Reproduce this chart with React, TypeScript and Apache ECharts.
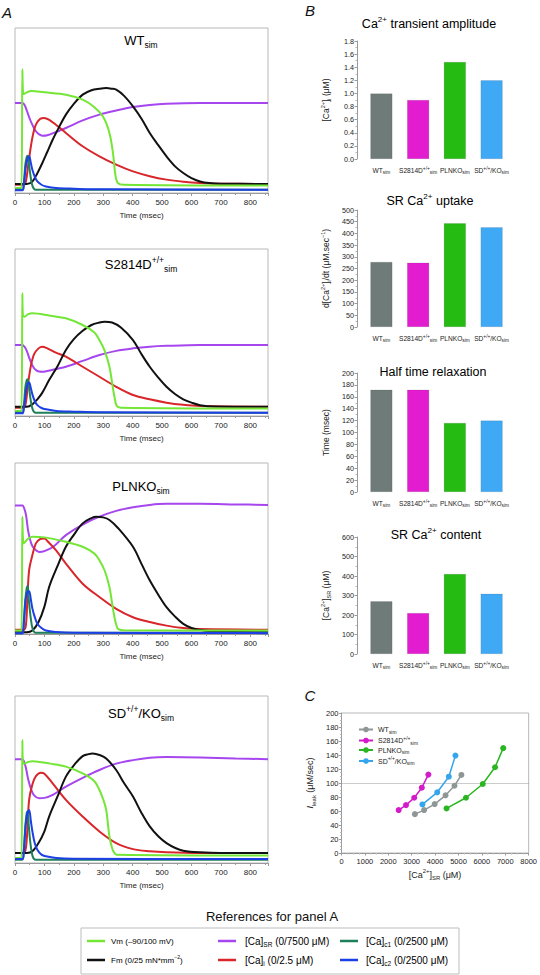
import React, { useEffect, useRef } from 'react';
import * as echarts from 'echarts';

const FONT = '"Liberation Sans", Arial, Helvetica, sans-serif';

// ---------- Panel A: traces, time (msec) vs normalised level (0 = frame bottom, 1 = frame top)
const traceTimeMax = 860;
const traceTimeTicks = 100;

const wtVm = [[0,0.03],[22,0.03],[25,0.75],[27,0.62],[30,0.6],[40,0.61],[55,0.618],[100,0.61],[173,0.596],[230,0.566],[270,0.52],[300,0.46],[321,0.364],[333,0.242],[342,0.1],[350,0.06],[370,0.05],[860,0.045]];
const wtSR = [[0,0.545],[25,0.545],[32,0.535],[40,0.5],[50,0.45],[60,0.41],[71,0.374],[82,0.355],[93,0.347],[110,0.35],[140,0.37],[173,0.394],[230,0.44],[287,0.475],[344,0.5],[401,0.521],[458,0.534],[515,0.541],[629,0.545],[860,0.545]];
const wtCai = [[0,0.05],[30,0.05],[37,0.07],[45,0.17],[54,0.283],[62,0.36],[71,0.414],[85,0.448],[99,0.455],[115,0.445],[139,0.414],[173,0.364],[230,0.283],[287,0.222],[344,0.172],[401,0.131],[458,0.102],[515,0.081],[572,0.068],[629,0.06],[700,0.056],[860,0.055]];
const wtFm = [[0,0.055],[40,0.055],[59,0.07],[76,0.12],[93,0.182],[110,0.25],[128,0.323],[150,0.4],[173,0.475],[200,0.54],[230,0.596],[260,0.623],[287,0.632],[310,0.636],[330,0.632],[344,0.626],[370,0.59],[401,0.525],[430,0.45],[458,0.364],[487,0.29],[515,0.222],[545,0.16],[572,0.121],[600,0.09],[629,0.07],[660,0.06],[700,0.056],[860,0.055]];
const wtC1 = [[0,0.02],[25,0.02],[30,0.06],[35,0.17],[40,0.22],[43,0.226],[47,0.18],[53,0.1],[60,0.04],[70,0.02],[860,0.02]];
const wtC2 = [[0,0.016],[25,0.016],[30,0.05],[36,0.15],[42,0.205],[48,0.222],[54,0.18],[59,0.141],[67,0.1],[76,0.07],[90,0.05],[105,0.04],[140,0.03],[200,0.026],[300,0.022],[860,0.02]];

const sdVm = [[0,0.03],[22,0.03],[25,0.735],[27,0.6],[32,0.595],[45,0.61],[59,0.615],[120,0.6],[173,0.585],[230,0.545],[270,0.5],[287,0.455],[305,0.39],[321,0.295],[330,0.2],[338,0.115],[346,0.06],[360,0.05],[860,0.045]];
const sdSR = [[0,0.425],[25,0.425],[32,0.415],[40,0.39],[50,0.34],[60,0.3],[71,0.275],[82,0.266],[93,0.265],[110,0.27],[140,0.282],[173,0.295],[230,0.33],[287,0.365],[344,0.39],[401,0.405],[458,0.415],[515,0.42],[629,0.425],[860,0.425]];
const sdCai = [[0,0.05],[30,0.05],[37,0.08],[45,0.2],[54,0.3],[65,0.37],[80,0.405],[93,0.415],[110,0.405],[139,0.38],[173,0.355],[230,0.295],[287,0.235],[344,0.175],[401,0.126],[458,0.1],[515,0.08],[572,0.067],[629,0.06],[860,0.055]];
const sdFm = [[0,0.055],[40,0.055],[59,0.07],[76,0.1],[93,0.14],[116,0.215],[145,0.3],[173,0.395],[200,0.46],[230,0.51],[260,0.545],[287,0.56],[304,0.565],[330,0.56],[360,0.53],[401,0.455],[430,0.37],[458,0.295],[487,0.23],[515,0.175],[545,0.13],[572,0.1],[600,0.08],[629,0.065],[680,0.057],[860,0.055]];
const sdC1 = [[0,0.02],[25,0.02],[30,0.06],[35,0.17],[40,0.215],[43,0.22],[47,0.18],[53,0.1],[60,0.04],[70,0.02],[860,0.02]];
const sdC2 = [[0,0.016],[25,0.016],[30,0.05],[36,0.13],[42,0.19],[48,0.2],[54,0.165],[59,0.13],[67,0.09],[76,0.065],[90,0.048],[105,0.04],[140,0.03],[200,0.026],[300,0.022],[860,0.02]];

const plVm = [[0,0.02],[22,0.02],[25,0.686],[27,0.56],[30,0.53],[40,0.55],[59,0.569],[100,0.565],[173,0.539],[230,0.51],[270,0.47],[287,0.431],[305,0.37],[321,0.275],[330,0.18],[338,0.098],[345,0.05],[350,0.03],[370,0.022],[860,0.02]];
const plSR = [[0,0.751],[25,0.751],[30,0.74],[37,0.7],[45,0.6],[55,0.53],[65,0.5],[82,0.48],[100,0.485],[130,0.51],[173,0.578],[230,0.64],[287,0.686],[344,0.72],[401,0.741],[458,0.755],[515,0.761],[629,0.761],[750,0.758],[860,0.755]];
const plCai = [[0,0.025],[30,0.025],[37,0.05],[42,0.2],[48,0.373],[59,0.46],[71,0.53],[85,0.555],[99,0.559],[115,0.535],[139,0.49],[173,0.412],[230,0.294],[287,0.216],[344,0.147],[401,0.098],[458,0.07],[515,0.049],[572,0.035],[629,0.029],[860,0.025]];
const plFm = [[0,0.01],[40,0.01],[59,0.02],[80,0.07],[100,0.16],[116,0.275],[145,0.4],[173,0.51],[200,0.58],[230,0.647],[260,0.678],[276,0.686],[300,0.682],[321,0.667],[350,0.62],[401,0.51],[430,0.41],[458,0.314],[487,0.23],[515,0.157],[545,0.1],[572,0.059],[600,0.035],[629,0.024],[680,0.014],[860,0.01]];
const plC1 = [[0,0.005],[25,0.005],[30,0.08],[35,0.2],[40,0.27],[43,0.28],[47,0.2],[53,0.1],[60,0.03],[70,0.008],[860,0.008]];
const plC2 = [[0,0.004],[25,0.004],[30,0.06],[36,0.2],[42,0.245],[48,0.25],[54,0.2],[59,0.15],[67,0.1],[76,0.06],[90,0.035],[105,0.02],[140,0.012],[200,0.008],[860,0.005]];

const skVm = [[0,0.03],[22,0.03],[25,0.736],[27,0.6],[32,0.596],[45,0.605],[59,0.61],[120,0.595],[173,0.577],[230,0.537],[270,0.49],[287,0.437],[300,0.38],[310,0.318],[321,0.159],[330,0.09],[336,0.065],[345,0.05],[860,0.045]];
const skSR = [[0,0.622],[25,0.622],[30,0.61],[37,0.57],[45,0.5],[55,0.44],[65,0.405],[82,0.388],[100,0.39],[130,0.41],[173,0.457],[230,0.51],[287,0.557],[344,0.595],[401,0.616],[458,0.63],[515,0.634],[629,0.632],[750,0.626],[860,0.622]];
const skCai = [[0,0.06],[30,0.06],[37,0.09],[42,0.2],[48,0.378],[59,0.47],[71,0.52],[88,0.541],[100,0.535],[128,0.477],[173,0.378],[230,0.278],[287,0.189],[344,0.119],[401,0.083],[458,0.07],[515,0.064],[629,0.06],[860,0.06]];
const skFm = [[0,0.06],[40,0.06],[59,0.07],[80,0.12],[100,0.19],[116,0.278],[145,0.4],[173,0.517],[200,0.585],[230,0.64],[250,0.652],[264,0.656],[290,0.645],[310,0.626],[344,0.557],[370,0.48],[401,0.398],[430,0.3],[458,0.219],[487,0.16],[515,0.119],[545,0.09],[572,0.074],[629,0.064],[700,0.06],[860,0.06]];
const skC1 = [[0,0.02],[25,0.02],[30,0.08],[35,0.22],[40,0.3],[43,0.31],[47,0.22],[53,0.11],[60,0.04],[70,0.02],[860,0.02]];
const skC2 = [[0,0.024],[25,0.024],[30,0.07],[36,0.22],[42,0.3],[48,0.318],[54,0.25],[59,0.19],[67,0.12],[76,0.08],[90,0.05],[105,0.04],[140,0.03],[200,0.026],[860,0.024]];

const panelATitles = ['{n|WT}{s|sim}', '{n|S2814D}{p|+/+}{s|sim}', '{n|PLNKO}{s|sim}', '{n|SD}{p|+/+}{n|/KO}{s|sim}'];
const traceNames = ['[Ca]SR', '[Ca]i', 'Fm', 'Vm', '[Ca]c1', '[Ca]c2'];
const traceColors = ['#a646ee', '#d8262b', '#111111', '#74e636', '#1f7f5a', '#1d3fe6'];
const panelAData = [
  [wtSR, wtCai, wtFm, wtVm, wtC1, wtC2],
  [sdSR, sdCai, sdFm, sdVm, sdC1, sdC2],
  [plSR, plCai, plFm, plVm, plC1, plC2],
  [skSR, skCai, skFm, skVm, skC1, skC2],
];

// ---------- Panel B: bar charts
const barCategories = ['WT', 'S2814D', 'PLNKO', 'SD/KO'];
const barCategoryLabels = ['{n|WT}{s|sim}', '{n|S2814D}{p|+/+}{s|sim}', '{n|PLNKO}{s|sim}', '{n|SD}{p|+/+}{n|/KO}{s|sim}'];
const barColors = ['#6f7b78', '#e21dcf', '#25bb12', '#40a9f5'];
const caAmplitude = [1.0, 0.9, 1.48, 1.2];
const srUptake = [278, 275, 443, 426];
const halfRelaxation = [172, 172, 116, 120];
const srContent = [270, 210, 410, 309];

// ---------- Panel C: leak vs SR load
const leakWT = [[3137,55.5],[3531,61.3],[3983,69.9],[4448,82.4],[4829,96.1],[5125,111.5]];
const leakS2814D = [[2444,61.3],[2757,68.4],[3108,78.9],[3434,93.3],[3713,112]];
const leakPLNKO = [[4490,63.7],[5320,78.9],[6038,98.6],[6563,122.5],[6913,149.8]];
const leakSDKO = [[3459,69.4],[4093,86.7],[4588,109],[4871,139.2]];
const leakThreshold = 100;
const leakNames = ['WT', 'S2814D', 'PLNKO', 'SD/KO'];
const leakColors = ['#8f9796', '#d41bc9', '#29b620', '#35a5ec'];

function rich(size: number, color = '#111', subRatio = 0.65) {
  const small = Math.round(size * subRatio * 10) / 10;
  const base = { fontFamily: FONT, color };
  return {
    n: { ...base, fontSize: size, lineHeight: Math.round(size * 1.4) },
    i: { ...base, fontSize: size, lineHeight: Math.round(size * 1.4), fontStyle: 'italic' },
    s: { ...base, fontSize: small, lineHeight: Math.round(size * 0.7), verticalAlign: 'bottom' },
    p: { ...base, fontSize: small, lineHeight: Math.round(size * 0.7), verticalAlign: 'top' },
  };
}

function buildOption() {
  const grid: any[] = [];
  const xAxis: any[] = [];
  const yAxis: any[] = [];
  const series: any[] = [];
  const graphic: any[] = [];
  const axisGrey = '#9a9a9a';
  const labelColor = '#222';

  // Panel A
  const aBoxes = [
    { top: 28, height: 165, titleY: 40 },
    { top: 249, height: 167, titleY: 264 },
    { top: 463, height: 171, titleY: 486 },
    { top: 696, height: 167, titleY: 713 },
  ];
  aBoxes.forEach((b, i) => {
    grid.push({ left: 15, top: b.top, width: 253, height: b.height, show: true, borderColor: '#b8b8b8', borderWidth: 1 });
    xAxis.push({
      gridIndex: i, type: 'value', min: 0, max: traceTimeMax, interval: traceTimeTicks,
      axisLine: { show: true, lineStyle: { color: axisGrey } },
      axisTick: { show: true, length: 3, lineStyle: { color: axisGrey } },
      minorTick: { show: true, splitNumber: 2, length: 2, lineStyle: { color: axisGrey } },
      splitLine: { show: false },
      axisLabel: { fontSize: 8, color: labelColor, margin: 5, showMaxLabel: false },
      name: 'Time (msec)', nameLocation: 'middle', nameGap: 18,
      nameTextStyle: { fontSize: 8, color: labelColor },
    });
    yAxis.push({ gridIndex: i, type: 'value', min: 0, max: 1, show: false });
    panelAData[i].forEach((d, k) => {
      series.push({
        type: 'line', name: traceNames[k], xAxisIndex: i, yAxisIndex: i, data: d,
        symbol: 'none', showSymbol: false, smooth: 0.35,
        lineStyle: { color: traceColors[k], width: 2 }, z: 2 + k, silent: true,
      });
    });
    graphic.push({
      type: 'text', x: 141, y: b.titleY,
      style: { text: panelATitles[i], rich: rich(13), align: 'center', verticalAlign: 'middle' },
    });
  });

  // Panel B
  const bBoxes = [
    { top: 41, height: 118, max: 1.8, interval: 0.2, data: caAmplitude, dec: 1,
      name: '{n|[Ca}{p|2+}{n|]}{s|i}{n| (μM)}', title: '{n|Ca}{p|2+}{n| transient amplitude}', titleX: 429, titleY: 24 },
    { top: 210, height: 117, max: 500, interval: 50, data: srUptake, dec: 0,
      name: '{n|d[Ca}{p|2+}{n|]}{s|i}{n|/dt (μM.sec}{p|−1}{n|)}', title: '{n|SR Ca}{p|2+}{n| uptake}', titleX: 430, titleY: 201 },
    { top: 373, height: 119, max: 200, interval: 20, data: halfRelaxation, dec: 0,
      name: '{n|Time (msec)}', title: '{n|Half time relaxation}', titleX: 433, titleY: 372 },
    { top: 537, height: 117, max: 600, interval: 100, data: srContent, dec: 0,
      name: '{n|[Ca}{p|2+}{n|]}{s|SR}{n| (μM)}', title: '{n|SR Ca}{p|2+}{n| content}', titleX: 436, titleY: 535 },
  ];
  bBoxes.forEach((b, j) => {
    const gi = 4 + j;
    grid.push({ left: 363, top: b.top, width: 147, height: b.height });
    xAxis.push({
      gridIndex: gi, type: 'category', data: barCategories,
      axisLine: { show: false }, axisTick: { show: false },
      axisLabel: {
        interval: 0, margin: 7, hideOverlap: false,
        formatter: (v: string) => barCategoryLabels[barCategories.indexOf(v)],
        rich: rich(6.6, '#222', 0.73),
      },
    });
    yAxis.push({
      gridIndex: gi, type: 'value', min: 0, max: b.max, interval: b.interval, offset: 6,
      axisLine: { show: true, lineStyle: { color: axisGrey } },
      axisTick: { show: true, length: 2.5, lineStyle: { color: axisGrey } },
      minorTick: { show: true, splitNumber: 2, length: 1.5, lineStyle: { color: '#bbb' } },
      splitLine: { show: false },
      axisLabel: { fontSize: 7.2, color: labelColor, margin: 3, formatter: (v: number) => v.toFixed(b.dec) },
      name: b.name, nameLocation: 'middle', nameRotate: 90, nameGap: 25,
      nameTextStyle: { rich: rich(8.5, '#222') },
    });
    series.push({
      type: 'bar', xAxisIndex: gi, yAxisIndex: gi, barWidth: 22, silent: true,
      data: b.data.map((v, i) => ({ value: v, itemStyle: { color: barColors[i], borderColor: 'rgba(0,0,0,0.2)', borderWidth: 0.5 } })),
    });
    graphic.push({
      type: 'text', x: b.titleX, y: b.titleY,
      style: { text: b.title, rich: rich(12.5), align: 'center', verticalAlign: 'middle' },
    });
  });

  // Panel C
  grid.push({ left: 341.5, top: 713, width: 189, height: 140, show: true, borderColor: '#b8b8b8', borderWidth: 1 });
  xAxis.push({
    gridIndex: 8, type: 'value', min: 0, max: 8000, interval: 1000,
    axisLine: { show: true, lineStyle: { color: axisGrey } },
    axisTick: { show: true, length: 2.5, lineStyle: { color: axisGrey } },
    minorTick: { show: true, splitNumber: 4, length: 1.5, lineStyle: { color: '#bbb' } },
    splitLine: { show: false },
    axisLabel: { fontSize: 7.5, color: labelColor, margin: 4, formatter: (v: number) => String(v) },
    name: '{n|[Ca}{p|2+}{n|]}{s|SR}{n| (μM)}', nameLocation: 'middle', nameGap: 15,
    nameTextStyle: { rich: rich(9, '#222') },
  });
  yAxis.push({
    gridIndex: 8, type: 'value', min: 0, max: 200, interval: 20,
    axisLine: { show: true, lineStyle: { color: axisGrey } },
    axisTick: { show: true, length: 2.5, lineStyle: { color: axisGrey } },
    minorTick: { show: true, splitNumber: 4, length: 1.5, lineStyle: { color: '#bbb' } },
    splitLine: { show: false },
    axisLabel: { fontSize: 7.5, color: labelColor, margin: 3, formatter: (v: number) => String(v) },
    name: '{i|I}{s|leak}{n| (μM/sec)}', nameLocation: 'middle', nameRotate: 90, nameGap: 25,
    nameTextStyle: { rich: rich(9, '#222') },
  });
  [leakWT, leakS2814D, leakPLNKO, leakSDKO].forEach((d, k) => {
    const s: any = {
      type: 'line', name: leakNames[k], xAxisIndex: 8, yAxisIndex: 8, data: d,
      symbol: 'circle', symbolSize: 6, showSymbol: true,
      lineStyle: { color: leakColors[k], width: 1.5 }, itemStyle: { color: leakColors[k] }, z: 5, silent: true,
    };
    if (k === 0) {
      s.markLine = {
        silent: true, symbol: ['none', 'none'], label: { show: false },
        lineStyle: { type: 'dotted', color: '#999', width: 1 },
        data: [{ yAxis: leakThreshold }],
      };
    }
    series.push(s);
  });
  const leakLegendLabels: Record<string, string> = {
    'WT': '{n|WT}{s|sim}', 'S2814D': '{n|S2814D}{p|+/+}{s|sim}', 'PLNKO': '{n|PLNKO}{s|sim}', 'SD/KO': '{n|SD}{p|+/+}{n|/KO}{s|sim}',
  };

  // panel letters
  [['A', 7, 12], ['B', 310, 10], ['C', 310, 695]].forEach(([t, x, y]) => {
    graphic.push({ type: 'text', x, y, style: { text: t, fontSize: 15, fontStyle: 'italic', fontFamily: FONT, fill: '#111', align: 'center', verticalAlign: 'middle' } });
  });

  // reference box for panel A
  graphic.push({ type: 'text', x: 272, y: 916, style: { text: 'References for panel A', fontSize: 13, fontFamily: FONT, fill: '#111', align: 'center', verticalAlign: 'middle' } });
  graphic.push({ type: 'rect', shape: { x: 81, y: 928, width: 378, height: 46 }, style: { fill: '#fff', stroke: '#bdbdbd', lineWidth: 1 } });
  const refEntries = [
    { text: '{n|Vm (–90/100 mV)}', color: traceColors[3], lx: 87, tx: 111, y: 941, size: 8 },
    { text: '{n|Fm (0/25 mN*mm}{p|−2}{n|)}', color: traceColors[2], lx: 87, tx: 111, y: 960, size: 8 },
    { text: '{n|[Ca]}{s|SR}{n| (0/7500 μM)}', color: traceColors[0], lx: 218, tx: 245, y: 941, size: 10 },
    { text: '{n|[Ca]}{s|i}{n| (0/2.5 μM)}', color: traceColors[1], lx: 218, tx: 245, y: 960, size: 10 },
    { text: '{n|[Ca]}{s|c1}{n| (0/2500 μM)}', color: traceColors[4], lx: 340, tx: 366, y: 941, size: 10 },
    { text: '{n|[Ca]}{s|c2}{n| (0/2500 μM)}', color: traceColors[5], lx: 340, tx: 366, y: 960, size: 10 },
  ];
  refEntries.forEach((e) => {
    graphic.push({ type: 'line', shape: { x1: e.lx, y1: e.y, x2: e.lx + 18, y2: e.y }, style: { stroke: e.color, lineWidth: 2.5 } });
    graphic.push({ type: 'text', x: e.tx, y: e.y, style: { text: e.text, rich: rich(e.size), align: 'left', verticalAlign: 'middle' } });
  });

  return {
    animation: false,
    backgroundColor: '#ffffff',
    textStyle: { fontFamily: FONT },
    grid, xAxis, yAxis, series, graphic,
    legend: {
      data: leakNames, orient: 'vertical', left: 353, top: 721,
      itemWidth: 14, itemHeight: 7, itemGap: 1, selectedMode: false,
      formatter: (n: string) => leakLegendLabels[n],
      textStyle: { rich: rich(7, '#222', 0.7) },
    },
  };
}

export default function App() {
  const ref = useRef<HTMLDivElement>(null);
  useEffect(() => {
    if (!ref.current) return;
    const chart = echarts.init(ref.current, null, { renderer: 'svg' });
    chart.setOption(buildOption() as any);
    return () => chart.dispose();
  }, []);
  return (
    <div
      ref={ref}
      style={{ position: 'absolute', left: 0, top: 0, width: 540, height: 975, background: '#fff' }}
    />
  );
}
